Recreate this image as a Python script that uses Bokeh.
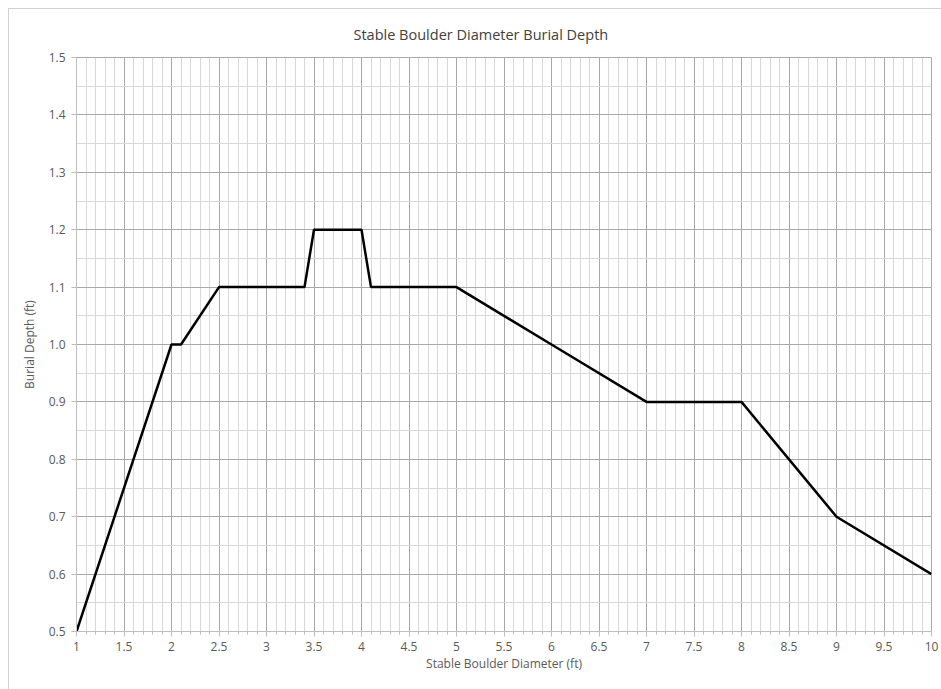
from bokeh.plotting import figure
from bokeh.models import SingleIntervalTicker, NumeralTickFormatter, Range1d
from bokeh.embed import file_html
from bokeh.resources import INLINE

# Data
diameter_ft = [1.0, 2.0, 2.1, 2.5, 3.4, 3.5, 4.0, 4.1, 5.0, 6.1, 7.0, 8.0, 9.0, 10.0]
burial_depth_ft = [0.5, 1.0, 1.0, 1.1, 1.1, 1.2, 1.2, 1.1, 1.1, 0.99, 0.9, 0.9, 0.7, 0.6]

title_text = "Stable Boulder Diameter Burial Depth"
x_label = "Stable Boulder Diameter (ft)"
y_label = "Burial Depth (ft)"

FONT = "Open Sans"
TXT = "#595959"

p = figure(width=933, height=681, output_backend="svg", toolbar_location=None,
           x_range=Range1d(1, 10), y_range=Range1d(0.5, 1.5),
           min_border_left=67, min_border_right=11, min_border_top=48, min_border_bottom=59)

p.title.text = title_text
p.title.align = "left"
p.title.offset = 277
p.title.text_font = FONT
p.title.text_font_size = "14.5px"
p.title.text_font_style = "normal"
p.title.text_color = "#404040"
p.title.text_line_height = 1.0
p.title.standoff = 27

p.line(diameter_ft, burial_depth_ft, line_color="black", line_width=2.5)

xt = SingleIntervalTicker(interval=0.5, num_minor_ticks=5)
yt = SingleIntervalTicker(interval=0.1, num_minor_ticks=2)
p.xaxis.ticker = xt
p.yaxis.ticker = yt
p.xgrid.ticker = xt
p.ygrid.ticker = yt
p.xaxis.formatter = NumeralTickFormatter(format="0.[0]")
p.yaxis.formatter = NumeralTickFormatter(format="0.0")

for ax in (p.xaxis, p.yaxis):
    ax.axis_line_color = "#bfbfbf"
    ax.major_tick_line_color = "#bfbfbf"
    ax.minor_tick_line_color = "#bfbfbf"
    ax.major_label_text_font = FONT
    ax.major_label_text_font_size = "12px"
    ax.major_label_text_color = TXT
    ax.axis_label_text_font = FONT
    ax.axis_label_text_font_size = "12px"
    ax.axis_label_text_font_style = "normal"
    ax.axis_label_text_color = TXT

p.xaxis.axis_label = x_label
p.yaxis.axis_label = y_label
p.xaxis.major_tick_in = 0
p.xaxis.major_tick_out = 5
p.xaxis.minor_tick_in = 0
p.xaxis.minor_tick_out = 3
p.yaxis.major_tick_in = 0
p.yaxis.major_tick_out = 5
p.yaxis.minor_tick_in = 0
p.yaxis.minor_tick_out = 0
p.xaxis.major_label_standoff = 5
p.yaxis.major_label_standoff = 6
p.xaxis.axis_label_standoff = 1
p.yaxis.axis_label_standoff = 8

for g in (p.xgrid, p.ygrid):
    g.grid_line_color = "#a8a8a8"
    g.grid_line_width = 1
    g.minor_grid_line_color = "#d8d8d8"
    g.minor_grid_line_width = 1

p.outline_line_color = "#a8a8a8"
p.background_fill_color = "white"
p.border_fill_color = "white"
p.styles = {"margin-left": "8px", "margin-top": "8px",
            "border-left": "1px solid #d0d0d0", "border-top": "1px solid #d0d0d0"}

open("out.html", "w").write(file_html(p, INLINE))
